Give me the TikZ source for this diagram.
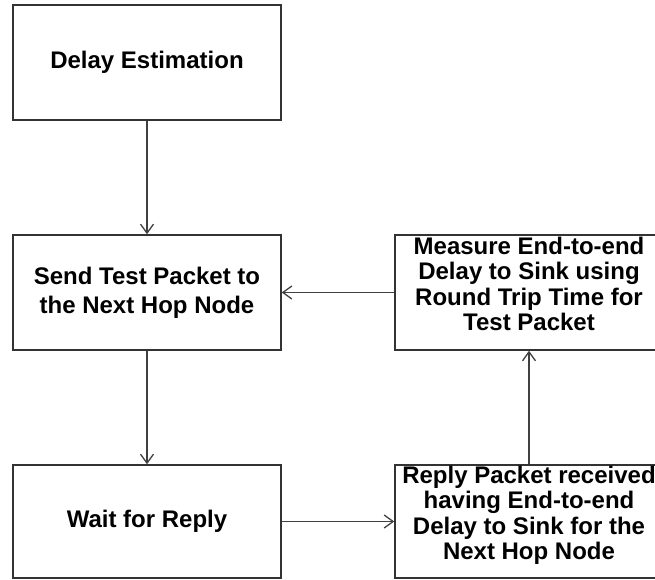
\documentclass[tikz,border=0pt]{standalone}
\usepackage{fontspec}
\setmainfont{Liberation Sans}
\usetikzlibrary{arrows.meta}
\begin{document}
\begin{tikzpicture}[x=1pt,y=1pt,
  stepbox/.style={draw=black!80, line width=1.5pt, rectangle, inner sep=0pt,
    align=center, font=\bfseries\fontsize{24}{25.5}\selectfont},
  conn/.style={draw=black!75, line width=1.5pt, -{Straight Barb[length=9pt,width=13pt,line width=1.3pt]}}]
\useasboundingbox (0,0) rectangle (655,579);
\node[stepbox, minimum width=268pt, minimum height=115pt] (b1) at (147,516.5) {Delay Estimation};
\node[stepbox, minimum width=268pt, minimum height=115pt, font=\bfseries\fontsize{24}{29}\selectfont] (b2) at (147,286.5) {Send Test Packet to\\the Next Hop Node};
\node[stepbox, minimum width=268pt, minimum height=113pt] (b3) at (147,57.5) {Wait for Reply};
\node[stepbox, minimum width=268pt, minimum height=115pt] (b4) at (529,286.5) {Measure End-to-end\\Delay to Sink using\\Round Trip Time for\\Test Packet\\[-8pt]};
\node[stepbox, minimum width=268pt, minimum height=113pt] (b5) at (529,57.5) {Reply Packet received\\having End-to-end\\Delay to Sink for the\\Next Hop Node\\[-8pt]};
\draw[conn] (b1.south) -- (b2.north);
\draw[conn] (b2.south) -- (b3.north);
\draw[conn] (b3.east) -- (b5.west);
\draw[conn] (b5.north) -- (b4.south);
\draw[conn] (b4.west) -- (b2.east);
\end{tikzpicture}
\end{document}
